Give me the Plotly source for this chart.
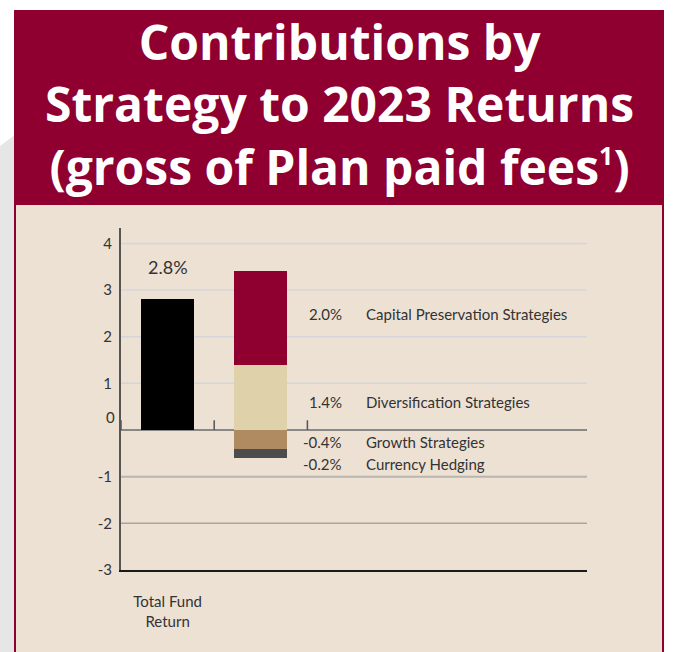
import plotly.graph_objects as go

# ---- data -------------------------------------------------------------
total_label = "Total Fund<br>Return"
total_return = 2.8

strategies = [
    "Diversification Strategies",
    "Capital Preservation Strategies",
    "Growth Strategies",
    "Currency Hedging",
]
strategy_values = [1.4, 2.0, -0.4, -0.2]

y_ticks = [-3, -2, -1, 0, 1, 2, 3, 4]

title_lines = ["Contributions by", "Strategy to 2023 Returns",
               "(gross of Plan paid fees<sup><span style='font-size:25px'>1</span></sup>)"]

# ---- styling ----------------------------------------------------------
W, H = 674, 652
L, R, T, B = 121, 87, 228, 82          # plot-area margins (px)
PW, PH = W - L - R, H - T - B

CRIMSON = "#8F0030"
BEIGE_BG = "#EDE1D4"
FONT = "Lato"
TITLE_FONT = "Open Sans"
TEXT = "#333333"

strategy_colors = ["#DFD2AA", CRIMSON, "#B08B62", "#4D4D4D"]
# vertical anchor of each side label (axis units), same order as strategies
label_y = [0.60, 2.49, -0.25, -0.73]

grid_style = {
    -3: ("#1a1a1a", 0),   # drawn by the axis line
    -2: ("#AAA7A2", 1.5),
    -1: ("#B9B5AF", 2),
    0: ("#8A8886", 2),
    1: ("#D6D6DA", 1.5),
    2: ("#D6D6DA", 1.5),
    3: ("#D6D6DA", 1.5),
    4: ("#D6D6DA", 1.5),
}


def px_x(px):
    return (px - L) / PW


def px_y(py):
    return (H - B - py) / PH


fig = go.Figure()

fig.add_trace(go.Bar(
    x=[0], y=[total_return], marker=dict(color="#000000", line_width=0),
    width=0.57, showlegend=False, hoverinfo="skip",
))
for name, val, col in zip(strategies, strategy_values, strategy_colors):
    fig.add_trace(go.Bar(
        x=[1], y=[val], name=name, marker=dict(color=col, line_width=0),
        width=0.57, showlegend=False, hoverinfo="skip",
    ))

shapes = []
# page decorations: grey backdrop, crimson card, beige body
shapes.append(dict(type="path", xref="paper", yref="paper", layer="below",
                   path=f"M {px_x(0)},{px_y(146)} L {px_x(16)},{px_y(134)} "
                        f"L {px_x(16)},{px_y(H + 5)} L {px_x(0)},{px_y(H + 5)} Z",
                   fillcolor="#E6E6E6", line_width=0))
shapes.append(dict(type="rect", xref="paper", yref="paper", layer="below",
                   x0=px_x(14), x1=px_x(664), y0=px_y(H + 5), y1=px_y(10),
                   fillcolor=CRIMSON, line_width=0))
shapes.append(dict(type="rect", xref="paper", yref="paper", layer="below",
                   x0=px_x(16), x1=px_x(662), y0=px_y(H + 5), y1=px_y(205),
                   fillcolor=BEIGE_BG, line_width=0))

# horizontal grid lines
for v in y_ticks:
    col, w = grid_style[v]
    if w > 0:
        shapes.append(dict(type="line", xref="paper", yref="y", layer="below",
                           x0=0, x1=1, y0=v, y1=v, line=dict(color=col, width=w)))

# small category-boundary ticks standing on the zero line
for xb in [-0.5, 0.5, 1.5]:
    shapes.append(dict(type="line", xref="x", yref="y", x0=xb, x1=xb,
                       y0=0, y1=0.21, line=dict(color="#555555", width=1.5)))

annotations = []
annotations.append(dict(
    text="<b>" + "<br>".join(title_lines) + "</b>", xref="paper", yref="paper",
    x=px_x(339), y=px_y(104), xanchor="center", yanchor="middle",
    showarrow=False, font=dict(family=TITLE_FONT, size=48, color="white"),
))

annotations.append(dict(
    text=f"{total_return:.1f}%", x=0, y=total_return, xref="x", yref="y",
    xanchor="center", yanchor="bottom", yshift=19, showarrow=False,
    font=dict(family=FONT, size=18, color=TEXT),
))

for name, val, ly in zip(strategies, strategy_values, label_y):
    annotations.append(dict(
        text=f"{val:.1f}%", x=px_x(344), y=ly, xref="paper", yref="y",
        xanchor="right", yanchor="middle", showarrow=False,
        font=dict(family=FONT, size=15, color=TEXT),
    ))
    annotations.append(dict(
        text=name, x=px_x(364), y=ly, xref="paper", yref="y",
        xanchor="left", yanchor="middle", showarrow=False,
        font=dict(family=FONT, size=15, color=TEXT),
    ))

# the zero label sits a little above its line
annotations.append(dict(
    text="0", x=px_x(117), y=0, xref="paper", yref="y", xanchor="right",
    yanchor="middle", yshift=13, showarrow=False,
    font=dict(family=FONT, size=15, color=TEXT),
))

fig.update_layout(
    width=W, height=H,
    margin=dict(l=L, r=R, t=T, b=B, pad=0),
    paper_bgcolor="white", plot_bgcolor="rgba(0,0,0,0)",
    barmode="relative", bargap=0,
    shapes=shapes, annotations=annotations,
    font=dict(family=FONT, color=TEXT),
    xaxis=dict(
        range=[-0.5, 4.5], showgrid=False, zeroline=False,
        showline=True, linecolor="#1a1a1a", linewidth=2,
        tickvals=[0], ticktext=[total_label], ticks="",
        ticklabelstandoff=17,
        tickfont=dict(family=FONT, size=15, color=TEXT),
    ),
    yaxis=dict(
        range=[-3, 4.33], showgrid=False, zeroline=False,
        showline=True, linecolor="#555555", linewidth=2,
        tickvals=[v for v in y_ticks if v != 0],
        ticktext=[str(v) for v in y_ticks if v != 0],
        ticks="", ticklabelstandoff=4,
        tickfont=dict(family=FONT, size=15, color=TEXT),
    ),
)

fig.write_html("out.html")
